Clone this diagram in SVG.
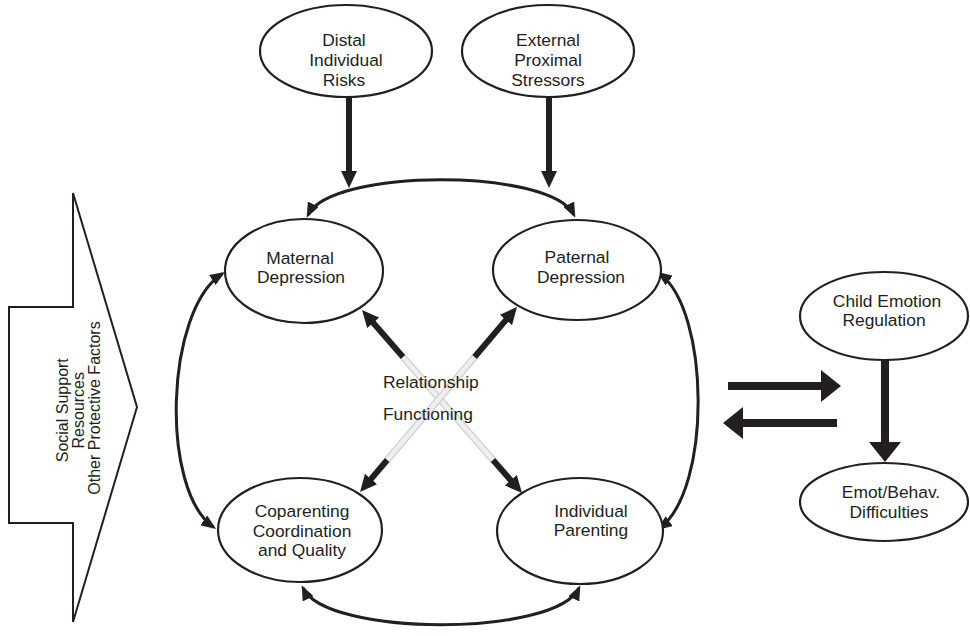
<svg xmlns="http://www.w3.org/2000/svg" width="970" height="636" viewBox="0 0 970 636">
  <style>
    .node ellipse { fill: #ffffff; stroke: #231f20; stroke-width: 2.2; }
    .node text, .label { font-family: "Liberation Sans", Arial, sans-serif; font-size: 17.4px; fill: #231f20; text-anchor: middle; }
    .curve { fill: none; stroke: #231f20; stroke-width: 3; }
    .shaft { fill: none; stroke: #231f20; stroke-width: 6; }
    .bold { fill: none; stroke: #231f20; stroke-width: 8; }
    .fade-out { fill: none; stroke: #cfcfcf; stroke-width: 7; }
    .fade-in { fill: none; stroke: #eeeeee; stroke-width: 4.5; }
  </style>
  <defs>
    <marker id="ah-s" markerUnits="userSpaceOnUse" markerWidth="15" markerHeight="12" refX="12" refY="6" orient="auto-start-reverse">
      <path d="M0,0 L15,6 L0,12 z" fill="#231f20"/>
    </marker>
    <marker id="ah-m" markerUnits="userSpaceOnUse" markerWidth="17" markerHeight="16" refX="9" refY="8" orient="auto">
      <path d="M0,0 L17,8 L0,16 z" fill="#231f20"/>
    </marker>
    <marker id="ah-l" markerUnits="userSpaceOnUse" markerWidth="20" markerHeight="32" refX="8" refY="16" orient="auto">
      <path d="M0,0 L20,16 L0,32 z" fill="#231f20"/>
    </marker>
  </defs>

  <rect width="970" height="636" fill="#ffffff"/>

  <!-- protective factors block arrow -->
  <g id="protective-factors">
    <polygon points="73,193 137,407 73,622 73,523 9,523 9,307 73,307" fill="#ffffff" stroke="#231f20" stroke-width="2"/>
    <text transform="translate(0,408) rotate(-90)" font-family="'Liberation Sans', Arial, sans-serif" font-size="16" fill="#231f20" text-anchor="middle">
      <tspan x="0" y="68">Social Support</tspan>
      <tspan x="0" y="84">Resources</tspan>
      <tspan x="0" y="100">Other Protective Factors</tspan>
    </text>
  </g>

  <!-- connectors -->
  <g id="connectors">
    <!-- risk inputs -->
    <path class="shaft" d="M349,97 L349,180" stroke-width="5" marker-end="url(#ah-m)"/>
    <path class="shaft" d="M549,97 L549,180" stroke-width="5" marker-end="url(#ah-m)"/>

    <!-- reciprocal links around the family system -->
    <path class="curve" d="M308,215 C331,168 551,168 574,215" marker-start="url(#ah-s)" marker-end="url(#ah-s)"/>
    <path class="curve" d="M303,588 C326,637 556,637 579,588" marker-start="url(#ah-s)" marker-end="url(#ah-s)"/>
    <path class="curve" d="M222.5,273.6 C165,310 160,490 213.6,527.2" marker-start="url(#ah-s)" marker-end="url(#ah-s)"/>
    <path class="curve" d="M659.5,273.6 C710,310 712,490 659.5,528.2" marker-start="url(#ah-s)" marker-end="url(#ah-s)"/>

    <!-- relationship functioning cross, faded through the middle -->
    <path class="fade-out" d="M403,357 L493,460"/>
    <path class="fade-in" d="M403,357 L493,460"/>
    <path class="fade-out" d="M474.6,357 L387.2,460"/>
    <path class="fade-in" d="M474.6,357 L387.2,460"/>
    <path class="shaft" d="M403,357 L367.3,316" marker-end="url(#ah-m)"/>
    <path class="shaft" d="M493,460 L516.7,487" marker-end="url(#ah-m)"/>
    <path class="shaft" d="M474.6,357 L511.8,313.1" marker-end="url(#ah-m)"/>
    <path class="shaft" d="M387.2,460 L365.2,485.9" marker-end="url(#ah-m)"/>

    <!-- family system and child -->
    <path class="bold" d="M728,386 L829,386" marker-end="url(#ah-l)"/>
    <path class="bold" d="M837,423 L735,423" marker-end="url(#ah-l)"/>
    <path class="bold" d="M885,360 L885,450" marker-end="url(#ah-l)"/>
  </g>

  <text class="label" style="text-anchor:start">
    <tspan x="383" y="388">Relationship</tspan>
    <tspan x="383" y="420">Functioning</tspan>
  </text>

  <!-- nodes -->
  <g id="distal-risks" class="node">
    <ellipse cx="346" cy="51" rx="86" ry="46"/>
    <text><tspan x="344" y="46">Distal</tspan><tspan x="346" y="66">Individual</tspan><tspan x="344" y="86">Risks</tspan></text>
  </g>
  <g id="external-stressors" class="node">
    <ellipse cx="548" cy="51" rx="86" ry="46"/>
    <text><tspan x="548" y="46">External</tspan><tspan x="548" y="66">Proximal</tspan><tspan x="548" y="86">Stressors</tspan></text>
  </g>
  <g id="maternal-depression" class="node">
    <ellipse cx="304" cy="271" rx="79" ry="52"/>
    <text><tspan x="300" y="263.5">Maternal</tspan><tspan x="301" y="283">Depression</tspan></text>
  </g>
  <g id="paternal-depression" class="node">
    <ellipse cx="577" cy="270" rx="84" ry="50"/>
    <text><tspan x="577" y="263">Paternal</tspan><tspan x="581" y="282.5">Depression</tspan></text>
  </g>
  <g id="coparenting" class="node">
    <ellipse cx="300" cy="530" rx="82" ry="52"/>
    <text><tspan x="302" y="517">Coparenting</tspan><tspan x="302" y="536.5">Coordination</tspan><tspan x="302" y="556">and Quality</tspan></text>
  </g>
  <g id="individual-parenting" class="node">
    <ellipse cx="580" cy="531" rx="83" ry="53"/>
    <text><tspan x="591" y="516.5">Individual</tspan><tspan x="591" y="536">Parenting</tspan></text>
  </g>
  <g id="child-emotion-regulation" class="node">
    <ellipse cx="884" cy="316" rx="84" ry="44"/>
    <text><tspan x="887" y="306.5">Child Emotion</tspan><tspan x="884" y="326">Regulation</tspan></text>
  </g>
  <g id="emot-behav-difficulties" class="node">
    <ellipse cx="884" cy="502" rx="84" ry="39"/>
    <text><tspan x="891" y="498">Emot/Behav.</tspan><tspan x="889" y="517.5">Difficulties</tspan></text>
  </g>
</svg>
